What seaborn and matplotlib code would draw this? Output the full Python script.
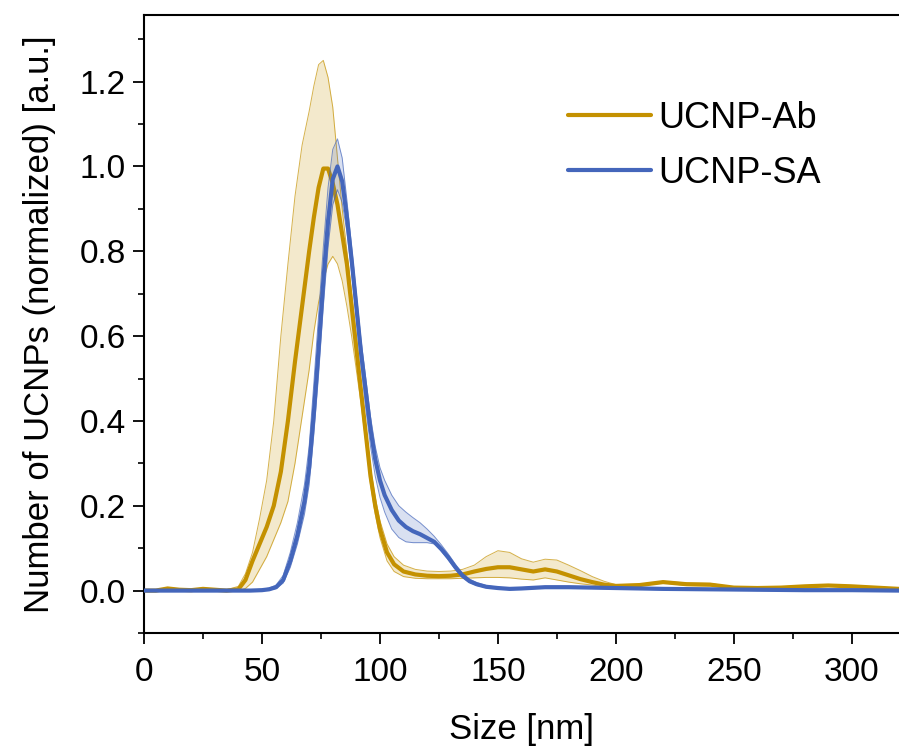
import numpy as np
import pandas as pd
import matplotlib
matplotlib.use("Agg")
import matplotlib.pyplot as plt
from matplotlib.ticker import MultipleLocator, FormatStrFormatter
import seaborn as sns

# ---------------- data ----------------
size_ab = [0, 5, 10, 15, 20, 25, 30, 35, 40, 43, 46, 49, 52, 55, 58, 61, 64, 67, 70, 72, 74, 76,
           78, 80, 82, 84, 86, 88, 90, 92, 94, 96, 98, 100, 103, 106, 110, 115, 120, 125, 130,
           135, 140, 145, 150, 155, 160, 165, 170, 175, 180, 185, 190, 195, 200, 210, 220, 230,
           240, 250, 260, 270, 280, 290, 300, 310, 320]
ab_mean = [0.0, 0.0, 0.005, 0.002, 0.001, 0.004, 0.002, 0.0, 0.003, 0.025, 0.07, 0.11, 0.15,
           0.2, 0.28, 0.40, 0.54, 0.67, 0.8, 0.88, 0.95, 0.995, 0.995, 0.96, 0.91, 0.84, 0.77,
           0.67, 0.57, 0.47, 0.37, 0.27, 0.2, 0.145, 0.09, 0.062, 0.045, 0.038, 0.035, 0.034,
           0.035, 0.038, 0.045, 0.051, 0.055, 0.055, 0.05, 0.045, 0.05, 0.045, 0.036, 0.027,
           0.02, 0.014, 0.011, 0.013, 0.02, 0.015, 0.014, 0.007, 0.006, 0.007, 0.01, 0.012,
           0.01, 0.007, 0.004]
ab_high = [0.002, 0.002, 0.007, 0.004, 0.003, 0.006, 0.004, 0.002, 0.01, 0.04, 0.09, 0.17, 0.26,
           0.4, 0.6, 0.77, 0.93, 1.05, 1.13, 1.19, 1.24, 1.25, 1.21, 1.14, 1.02, 0.9, 0.8,
           0.7, 0.6, 0.49, 0.39, 0.29, 0.22, 0.165, 0.11, 0.08, 0.06, 0.05, 0.046, 0.045,
           0.046, 0.05, 0.06, 0.08, 0.094, 0.09, 0.075, 0.067, 0.074, 0.072, 0.06, 0.047,
           0.033, 0.022, 0.014, 0.015, 0.022, 0.018, 0.017, 0.008, 0.008, 0.009, 0.012, 0.014,
           0.012, 0.009, 0.006]
ab_low = [-0.002, -0.002, 0.003, 0.0, -0.001, 0.002, 0.0, -0.002, 0.0, 0.005, 0.02, 0.05, 0.08,
          0.12, 0.16, 0.21, 0.3, 0.41, 0.52, 0.61, 0.68, 0.73, 0.77, 0.788, 0.77, 0.73, 0.67,
          0.6, 0.52, 0.44, 0.35, 0.25, 0.18, 0.125, 0.07, 0.045, 0.033, 0.029, 0.028, 0.028,
          0.028, 0.029, 0.03, 0.031, 0.031, 0.03, 0.027, 0.025, 0.03, 0.025, 0.02, 0.016,
          0.013, 0.009, 0.008, 0.011, 0.018, 0.012, 0.011, 0.006, 0.004, 0.005, 0.008, 0.01,
          0.008, 0.005, 0.002]

size_sa = [0, 10, 20, 30, 40, 45, 50, 53, 56, 59, 62, 65, 68, 70, 72, 74, 76, 78, 80, 82, 84,
           86, 88, 90, 92, 94, 96, 98, 100, 102, 105, 108, 111, 114, 117, 120, 123, 126, 129,
           132, 135, 138, 141, 145, 150, 155, 160, 170, 180, 190, 200, 220, 240, 260, 280,
           300, 320]
sa_mean = [0.0, 0.0, 0.0, 0.0, 0.0, 0.0, 0.001, 0.003, 0.008, 0.025, 0.07, 0.13, 0.21, 0.29,
           0.42, 0.57, 0.73, 0.87, 0.97, 1.0, 0.965, 0.88, 0.78, 0.67, 0.56, 0.47, 0.38, 0.31,
           0.26, 0.225, 0.19, 0.165, 0.15, 0.14, 0.133, 0.124, 0.115, 0.098, 0.078, 0.055,
           0.035, 0.022, 0.015, 0.009, 0.006, 0.004, 0.005, 0.008, 0.008, 0.007, 0.006, 0.004,
           0.003, 0.002, 0.001, 0.001, 0.0]
sa_high = [0.002, 0.002, 0.002, 0.002, 0.002, 0.002, 0.003, 0.006, 0.013, 0.036, 0.09, 0.16,
           0.25, 0.34, 0.49, 0.65, 0.81, 0.95, 1.04, 1.065, 1.02, 0.92, 0.81, 0.7, 0.59, 0.5,
           0.41, 0.34, 0.29, 0.26, 0.225, 0.2, 0.185, 0.172, 0.16, 0.145, 0.128, 0.108, 0.086,
           0.062, 0.041, 0.027, 0.019, 0.012, 0.008, 0.006, 0.007, 0.01, 0.01, 0.009, 0.008,
           0.006, 0.005, 0.004, 0.003, 0.003, 0.002]
sa_low = [-0.002, -0.002, -0.002, -0.002, -0.002, -0.002, 0.0, 0.001, 0.005, 0.018, 0.055, 0.11,
          0.18, 0.25, 0.37, 0.51, 0.67, 0.81, 0.91, 0.945, 0.915, 0.845, 0.75, 0.64, 0.53, 0.43,
          0.34, 0.27, 0.22, 0.185, 0.145, 0.125, 0.115, 0.113, 0.113, 0.113, 0.11, 0.093,
          0.072, 0.05, 0.031, 0.019, 0.012, 0.007, 0.004, 0.002, 0.003, 0.006, 0.006, 0.005,
          0.004, 0.002, 0.001, 0.0, -0.001, -0.001, -0.002]

labels = ["UCNP-Ab", "UCNP-SA"]
x_ticks = [0, 50, 100, 150, 200, 250, 300]
y_ticks = [0.0, 0.2, 0.4, 0.6, 0.8, 1.0, 1.2]

col_ab = "#C49100"
col_sa = "#4466BB"

# ---------------- style ----------------
sns.set_theme(style="ticks")
plt.rcParams["font.family"] = ["Liberation Sans", "DejaVu Sans"]
plt.rcParams["axes.linewidth"] = 1.5
plt.rcParams["text.color"] = "black"
plt.rcParams["axes.labelcolor"] = "black"

fig = plt.figure(figsize=(8.99, 7.53), dpi=100)
ax = fig.add_axes([144 / 899, 1 - 633 / 753, (899 - 144) / 899, 618 / 753])

df_ab = pd.DataFrame({"size": size_ab, "value": ab_mean, "series": labels[0]})
df_sa = pd.DataFrame({"size": size_sa, "value": sa_mean, "series": labels[1]})

line_kw = dict(lw=3.0, solid_joinstyle="round", solid_capstyle="round")

# Ab band + line
ax.fill_between(size_ab, ab_low, ab_high, color=col_ab, alpha=0.2, lw=0, zorder=1)
ax.plot(size_ab, ab_low, color=col_ab, lw=0.7, alpha=0.7, zorder=1.5)
ax.plot(size_ab, ab_high, color=col_ab, lw=0.7, alpha=0.7, zorder=1.5)
sns.lineplot(data=df_ab, x="size", y="value", color=col_ab, ax=ax,
             label=labels[0], zorder=2, **line_kw)

# SA band + line
ax.fill_between(size_sa, sa_low, sa_high, color=col_sa, alpha=0.2, lw=0, zorder=3)
ax.plot(size_sa, sa_low, color=col_sa, lw=0.7, alpha=0.7, zorder=3.5)
ax.plot(size_sa, sa_high, color=col_sa, lw=0.7, alpha=0.7, zorder=3.5)
sns.lineplot(data=df_sa, x="size", y="value", color=col_sa, ax=ax,
             label=labels[1], zorder=4, **line_kw)

ax.set_xlim(0, 320)
ax.set_ylim(-0.1, 1.357)
ax.set_xticks(x_ticks)
ax.set_yticks(y_ticks)
ax.yaxis.set_major_formatter(FormatStrFormatter("%.1f"))
ax.xaxis.set_minor_locator(MultipleLocator(25))
ax.yaxis.set_minor_locator(MultipleLocator(0.1))
ax.tick_params(axis="both", which="major", direction="out", length=8, width=1.3,
               labelsize=24, colors="black")
ax.tick_params(axis="both", which="minor", direction="out", length=4, width=1.2,
               colors="black")
ax.tick_params(axis="x", pad=9)
ax.tick_params(axis="y", pad=5)

for s in ["left", "bottom", "top"]:
    ax.spines[s].set_visible(True)
    ax.spines[s].set_color("black")
ax.spines["right"].set_visible(False)

ax.set_xlabel("Size [nm]", fontsize=25, labelpad=18, color="black")
ax.set_ylabel("Number of UCNPs (normalized) [a.u.]", fontsize=25, labelpad=17,
              color="black")

leg = ax.legend(loc="upper left", bbox_to_anchor=(0.542, 0.884), frameon=False,
                fontsize=26, handlelength=2.3, handletextpad=0.22, labelspacing=0.55,
                borderaxespad=0)
for h in leg.get_lines():
    h.set_linewidth(3.0)
for t in leg.get_texts():
    t.set_color("black")

fig.savefig("out.png", dpi=100)
